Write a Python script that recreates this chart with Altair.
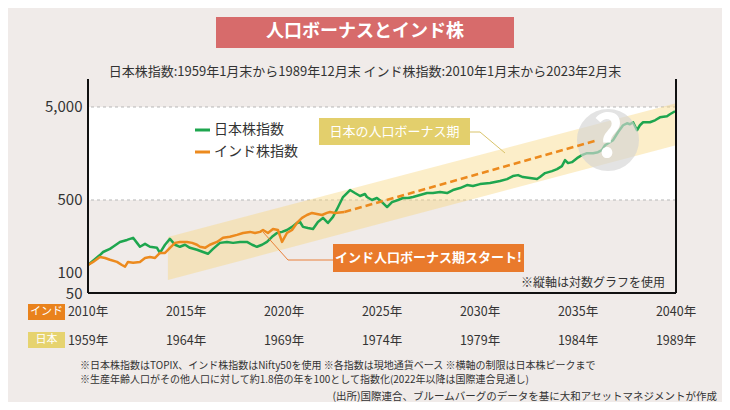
import altair as alt
import pandas as pd

FONT = "Noto Sans CJK JP"

# ---- data (x = years elapsed from the start: India Jan 2010 / Japan Jan 1959) ----
jp_t = [0, 0.61, 0.77, 1.12, 1.28, 1.63, 1.99, 2.30, 2.50, 2.65,
        2.91, 3.16, 3.52, 3.67, 3.93, 4.18, 4.44, 4.69, 4.95, 5.20,
        5.56, 5.87, 6.12, 6.38, 6.73, 7.09, 7.40, 7.76, 8.11, 8.37,
        8.62, 8.88, 9.13, 9.39, 9.64, 9.90, 10.15, 10.41, 10.66, 10.82,
        10.97, 11.22, 11.48, 11.73, 11.99, 12.24, 12.50, 12.76, 13.01, 13.37,
        13.62, 13.88, 14.13, 14.23, 14.49, 14.74, 15.0, 15.26, 15.51, 15.82,
        16.07, 16.33, 16.58, 16.94, 17.30, 17.60, 17.96, 18.32, 18.62, 18.98,
        19.34, 19.64, 20.0, 20.51, 21.02, 21.38, 21.68, 21.94, 22.19, 22.55,
        22.91, 23.06, 23.32, 23.67, 23.93, 24.18, 24.34, 24.49, 24.69, 24.95,
        25.20, 25.46, 25.77, 26.02, 26.22, 26.38, 26.79, 27.04, 27.30, 27.50,
        27.65, 27.81, 28.01, 28.16, 28.32, 28.67, 28.93, 29.18, 29.54, 29.69, 29.95]
jp_v = [100, 128, 138, 149, 157, 177, 186, 196, 173, 157,
        169, 157, 153, 135, 165, 191, 165, 157, 165, 153,
        146, 138, 132, 149, 173, 177, 173, 177, 177, 165,
        157, 165, 177, 201, 221, 227, 238, 257, 283, 290,
        257, 250, 244, 290, 321, 283, 329, 420, 538, 640,
        594, 552, 580, 538, 500, 525, 475, 420, 475, 500,
        525, 525, 538, 565, 594, 594, 609, 594, 640, 672,
        724, 706, 741, 760, 799, 839, 904, 926, 882, 861,
        839, 882, 973, 1022, 1074, 1157, 1341, 1246, 1276, 1409,
        1517, 1594, 1594, 1633, 1717, 1941, 2198, 2677, 3182, 3342,
        3262, 3428, 2812, 3182, 3428, 3428, 3597, 3873, 3972, 4174, 4496]

in_t = [0, 0.26, 0.61, 0.87, 1.12, 1.48, 1.73, 1.89, 2.04, 2.30,
        2.65, 2.91, 3.16, 3.42, 3.67, 3.93, 4.18, 4.44, 4.69, 5.05,
        5.31, 5.56, 5.71, 5.97, 6.22, 6.58, 6.89, 7.24, 7.60, 7.91,
        8.27, 8.52, 8.78, 8.93, 9.18, 9.44, 9.69, 9.90, 10.15, 10.41,
        10.66, 10.92, 11.17, 11.43, 11.68, 11.94, 12.19, 12.35, 12.60, 13.08]
in_v = [100, 108, 122, 119, 114, 108, 100, 96, 108, 106,
        108, 119, 122, 119, 135, 135, 153, 173, 177, 177,
        173, 165, 157, 153, 165, 177, 196, 201, 211, 221,
        227, 221, 227, 238, 221, 244, 238, 177, 221, 238,
        283, 321, 345, 363, 354, 345, 363, 372, 363, 372]

proj_t = [13.08, 26.0]
proj_v = [372, 2198]

band_t = [4.08, 30]
band_hi = [200, 5477]
band_lo = [69, 1941]

tick_t = [0, 5, 10, 15, 20, 25, 30]
india_years = [2010, 2015, 2020, 2025, 2030, 2035, 2040]
japan_years = [1959, 1964, 1969, 1974, 1979, 1984, 1989]
y_ticks = [50, 100, 500, 5000]

# ---- colours ----
GREEN = "#1ea64f"
ORANGE = "#ec8a1e"
BG = "#f0ebe9"
TXT = "#333333"

W, H = 588, 214

xs = alt.Scale(domain=[0, 30], nice=False, zero=False)
ys = alt.Scale(type="log", domain=[50, 10000], nice=False)
YAX = alt.Axis(values=y_ticks, format=",", labelFontSize=15, labelColor=TXT,
               labelFont=FONT, ticks=False, domain=False, grid=False, title=None,
               labelPadding=6,
               labelBaseline={"condition": {"test": "datum.value == 100", "value": "top"},
                              "value": "middle"})


def X(f):
    return alt.X(f, type="quantitative", scale=xs, axis=None)


def Y(f):
    return alt.Y(f, type="quantitative", scale=ys, axis=YAX)


one = pd.DataFrame({"a": [0]})


def label(text, x, y, size=12, color=TXT, weight="normal", align="center", baseline="middle"):
    return alt.Chart(one).mark_text(text=text, fontSize=size, color=color, fontWeight=weight,
                                    align=align, baseline=baseline, font=FONT).encode(
        x=alt.value(x), y=alt.value(y))


def box(x1, x2, y1, y2, color):
    return alt.Chart(one).mark_rect(color=color).encode(
        x=alt.value(x1), x2=alt.value(x2), y=alt.value(y1), y2=alt.value(y2))


def seg(x1, y1, x2, y2, color, w=1):
    return alt.Chart(one).mark_rule(color=color, strokeWidth=w).encode(
        x=alt.value(x1), y=alt.value(y1), x2=alt.value(x2), y2=alt.value(y2))


jp = pd.DataFrame({"t": jp_t, "v": jp_v})
ind = pd.DataFrame({"t": in_t, "v": in_v})
proj = pd.DataFrame({"t": proj_t, "v": proj_v})
band = pd.DataFrame({"t": band_t, "hi": band_hi, "lo": band_lo})
ticks = pd.DataFrame({"t": tick_t,
                      "india": [f"{y}年" for y in india_years],
                      "japan": [f"{y}年" for y in japan_years]})
white = pd.DataFrame({"x0": [0], "x1": [30], "y0": [500], "y1": [5000]})
grid = pd.DataFrame({"v": [500, 5000]})

white_rect = alt.Chart(white).mark_rect(color="white").encode(
    x=X("x0"), x2="x1", y=Y("y0"), y2="y1")
grid_rules = alt.Chart(grid).mark_rule(color="#b8b8b8", strokeDash=[3, 3], strokeWidth=1).encode(
    y=Y("v"))
band_area = alt.Chart(band).mark_area(color="#f9d77e", opacity=0.42).encode(
    x=X("t"), y=Y("hi"), y2="lo")
jp_line = alt.Chart(jp).mark_line(color=GREEN, strokeWidth=2.5, strokeJoin="round").encode(
    x=X("t"), y=Y("v"))
circle = alt.Chart(one).mark_circle(size=3850, color="#d4d4d4", opacity=0.65).encode(
    x=alt.value(520), y=alt.value(61))
in_line = alt.Chart(ind).mark_line(color=ORANGE, strokeWidth=2.5, strokeJoin="round").encode(
    x=X("t"), y=Y("v"))
proj_line = alt.Chart(proj).mark_line(color=ORANGE, strokeWidth=2.5, strokeDash=[7, 4]).encode(
    x=X("t"), y=Y("v"))
qmark = label("?", 520, 61, size=58, color="white", weight="bold")

india_lbl = alt.Chart(ticks).mark_text(fontSize=12.5, color=TXT, font=FONT).encode(
    x=X("t"), y=alt.value(233), text="india:N")
japan_lbl = alt.Chart(ticks).mark_text(fontSize=12.5, color=TXT, font=FONT).encode(
    x=X("t"), y=alt.value(262), text="japan:N")

layers = [
    white_rect, grid_rules, band_area, jp_line, circle, in_line, proj_line, qmark,
    # legend
    seg(107, 51, 122, 51, GREEN, 3), label("日本株指数", 126, 51, size=14, align="left"),
    seg(107, 73, 122, 73, ORANGE, 3), label("インド株指数", 126, 73, size=14, align="left"),
    # annotation: Japan bonus period
    seg(382, 53, 392, 53, "#d9c36a", 1), seg(392, 53, 417, 74, "#d9c36a", 1),
    box(231, 382, 39, 66, "#e3cf6c"),
    label("日本の人口ボーナス期", 306.5, 52.5, size=13, color="white"),
    # annotation: India start
    seg(175, 153, 200, 181, "#e9803a", 1), seg(200, 181, 245, 181, "#e9803a", 1),
    box(245, 436, 165, 193, "#e97a2c"),
    label("インド人口ボーナス期スタート!", 340.5, 179, size=13, color="white", weight="bold"),
    label("※縦軸は対数グラフを使用", 577, 204, size=12, align="right"),
    # frame
    seg(0, 0, 0, H, "#111111", 2), seg(W, 0, W, H, "#111111", 2), seg(0, H, W, H, "#111111", 2),
    # title & subtitle
    box(128, 426, -62, -31, "#d76b6b"),
    label("人口ボーナスとインド株", 277, -47, size=18, color="white", weight="bold"),
    label("日本株指数:1959年1月末から1989年12月末  インド株指数:2010年1月末から2023年2月末",
          277, -7, size=13),
    # x labels with badges
    india_lbl, japan_lbl,
    box(-60, -23, 225, 241, "#e9821c"), label("インド", -41.5, 233, size=11, color="white"),
    box(-60, -23, 253, 269, "#e6d36f"), label("日本", -41.5, 261, size=11, color="white"),
    # footnotes
    label("※日本株指数はTOPIX、インド株指数はNifty50を使用 ※各指数は現地通貨ベース ※横軸の制限は日本株ピークまで",
          -8, 287, size=10, align="left"),
    label("※生産年齢人口がその他人口に対して約1.8倍の年を100として指数化(2022年以降は国際連合見通し)",
          -8, 300.5, size=10, align="left"),
    label("(出所)国際連合、ブルームバーグのデータを基に大和アセットマネジメントが作成",
          629, 318, size=10.5, align="right"),
]

chart = alt.layer(*layers).properties(
    width=W, height=H,
    autosize=alt.AutoSizeParams(type="none"),
    padding={"left": 80, "top": 71, "right": 46, "bottom": 109},
    background=BG,
).configure_view(strokeWidth=0)

chart.save("out.html", embed_options={"renderer": "svg", "actions": False})
